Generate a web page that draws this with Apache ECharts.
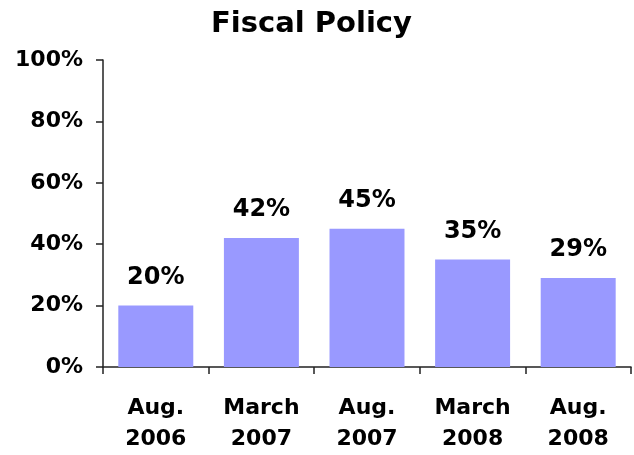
<!DOCTYPE html>
<html>
<head>
<meta charset="utf-8">
<script src="https://cdn.jsdelivr.net/npm/echarts@6/dist/echarts.min.js"></script>
<style>
  html, body { margin: 0; padding: 0; background: #fff; }
  #chart { width: 634px; height: 455px; }
</style>
</head>
<body>
<div id="chart"></div>
<script>
  // survey dates and shares
  var categories = ['Aug.\n2006', 'March\n2007', 'Aug.\n2007', 'March\n2008', 'Aug.\n2008'];
  var values = [20, 42, 45, 35, 29];
  var yTicks = { min: 0, max: 100, step: 20 };

  var chart = echarts.init(document.getElementById('chart'));
  var font = 'DejaVu Sans';

  var option = {
    backgroundColor: '#fff',
    animation: false,
    title: {
      text: 'Fiscal Policy',
      left: 206,
      top: 5,
      textStyle: { fontFamily: font, fontWeight: 'bold', fontSize: 29, color: '#000' }
    },
    grid: {
      left: 103,
      right: 3,
      top: 60,
      bottom: 88,
      containLabel: false,
      outerBoundsMode: 'none'
    },
    xAxis: {
      type: 'category',
      data: categories,
      axisLine: { lineStyle: { color: '#222', width: 1.5 } },
      axisTick: { show: true, length: 7, lineStyle: { color: '#222', width: 1.5 } },
      axisLabel: {
        margin: 26,
        fontFamily: font,
        fontWeight: 'bold',
        fontSize: 22,
        lineHeight: 31,
        color: '#000'
      }
    },
    yAxis: {
      type: 'value',
      min: yTicks.min,
      max: yTicks.max,
      interval: yTicks.step,
      splitLine: { show: false },
      axisLine: { show: true, lineStyle: { color: '#222', width: 1.5 } },
      axisTick: { show: true, length: 7, lineStyle: { color: '#222', width: 1.5 } },
      axisLabel: {
        margin: 20,
        fontFamily: font,
        fontWeight: 'bold',
        fontSize: 22,
        color: '#000',
        formatter: '{value}%'
      }
    },
    series: [{
      type: 'bar',
      data: values,
      barWidth: '71%',
      itemStyle: { color: '#9999FF' },
      label: {
        show: true,
        position: 'top',
        distance: 16,
        fontFamily: font,
        fontWeight: 'bold',
        fontSize: 24,
        color: '#000',
        formatter: '{c}%'
      }
    }]
  };

  chart.setOption(option);
</script>
</body>
</html>
